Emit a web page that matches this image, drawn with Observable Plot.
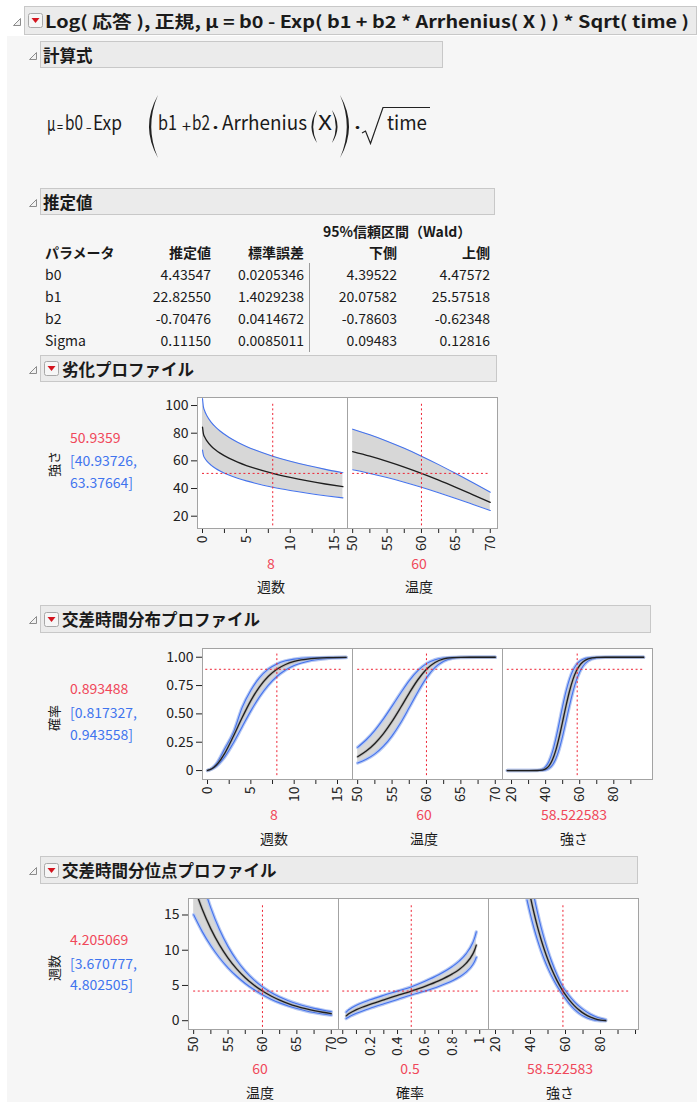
<!DOCTYPE html>
<html><head><meta charset="utf-8">
<script src="https://cdn.jsdelivr.net/npm/d3@7"></script>
<script src="https://cdn.jsdelivr.net/npm/@observablehq/plot@0.6"></script>
<style>
html,body{margin:0;padding:0;background:#fff;}
#root{position:relative;width:697px;height:1102px;overflow:hidden;font-family:"Noto Sans CJK JP","Noto Sans",sans-serif;color:#1a1a1a;}
.t{position:absolute;white-space:nowrap;line-height:1;}
.box{position:absolute;background:#ebebeb;border:1px solid #c8c8c8;box-sizing:border-box;}
</style></head>
<body><div id="root"></div>
<script>
// ---------- text content ----------
const titleText = "Log( 応答 ), 正規, μ = b0 - Exp( b1 + b2 * Arrhenius( X ) ) * Sqrt( time )";
const sectionTitles = ["計算式", "推定値", "劣化プロファイル", "交差時間分布プロファイル", "交差時間分位点プロファイル"];
const ciHeader = "95%信頼区間（Wald）";
const tableHeaders = ["パラメータ", "推定値", "標準誤差", "下側", "上側"];
const paramNames = ["b0", "b1", "b2", "Sigma"];
const estimates = ["4.43547", "22.82550", "-0.70476", "0.11150"];
const stdErrors = ["0.0205346", "1.4029238", "0.0414672", "0.0085011"];
const lowerCI = ["4.39522", "20.07582", "-0.78603", "0.09483"];
const upperCI = ["4.47572", "25.57518", "-0.62348", "0.12816"];

// current settings & readouts
const currentWeeks = 8, currentTemp = 60, currentProb = 0.5, currentStrength = 58.522583;
const degReadout = ["50.9359", "[40.93726,", "63.37664]"];
const degValue = 50.9359;
const distReadout = ["0.893488", "[0.817327,", "0.943558]"];
const distValue = 0.893488;
const quantReadout = ["4.205069", "[3.670777,", "4.802505]"];
const quantValue = 4.205069;

// factor ranges
const weeksRange = [0, 16], tempRange = [50, 70], probRange = [0, 1], strengthRange = [17.5, 97.5];

// tick labels
const weekTicks = [0, 2.5, 5, 7.5, 10, 12.5, 15], weekLabels = [0, 5, 10, 15];
const tempTicks = [50, 52.5, 55, 57.5, 60, 62.5, 65, 67.5, 70], tempLabels = [50, 55, 60, 65, 70];
const strengthTicks = [20, 30, 40, 50, 60, 70, 80, 90], strengthLabels = [20, 40, 60, 80];
const strengthTicks3 = [20, 30, 40, 50, 60, 70, 80, 90, 100];
const probTicks = [0, 0.1, 0.2, 0.3, 0.4, 0.5, 0.6, 0.7, 0.8, 0.9, 1], probLabels = [0, 0.2, 0.4, 0.6, 0.8, 1];
const degYTicks = [20, 40, 60, 80, 100];
const distYTicks = [0, 0.25, 0.5, 0.75, 1];
const quantYTicks = [0, 5, 10, 15];

// ---------- 劣化プロファイル ----------
const degWeeks      = [0, 0.1, 0.25, 0.5, 1, 1.5, 2, 3, 4, 5, 6, 8, 10, 12, 14, 16];
const degWeeksMean  = [84.39, 79.76, 77.19, 74.39, 70.60, 67.82, 65.57, 61.95, 59.06, 56.62, 54.51, 50.94, 48.00, 45.48, 43.28, 41.32];
const degWeeksLo    = [67.82, 64.10, 62.04, 59.79, 56.74, 54.51, 52.70, 49.79, 47.47, 45.51, 43.81, 40.94, 38.58, 36.55, 34.78, 33.21];
const degWeeksHi    = [105.0, 99.24, 96.04, 92.56, 87.84, 84.38, 81.58, 77.08, 73.48, 70.45, 67.82, 63.38, 59.72, 56.59, 53.85, 51.41];
const degTemp       = [50, 52.5, 55, 57.5, 60, 62.5, 65, 67.5, 70];
const degTempMean   = [66.64, 63.35, 59.62, 55.48, 50.94, 46.03, 40.83, 35.46, 30.04];
const degTempLo     = [53.56, 50.91, 47.92, 44.59, 40.94, 36.99, 32.82, 28.50, 24.14];
const degTempHi     = [82.91, 78.82, 74.18, 69.03, 63.38, 57.27, 50.80, 44.12, 37.38];

// ---------- 交差時間分布プロファイル ----------
const distWeeks     = [0, 0.5, 1, 2, 3, 4, 5, 6, 7, 8, 9, 10, 12, 14, 16];
const distWeeksMean = [0.0005, 0.0157, 0.0463, 0.1542, 0.3051, 0.4677, 0.6167, 0.7385, 0.8296, 0.8935, 0.9357, 0.9625, 0.9882, 0.9966, 0.9991];
const distWeeksLo   = [0.0005, 0.0131, 0.0371, 0.1222, 0.2457, 0.3871, 0.5266, 0.6505, 0.7520, 0.8300, 0.8871, 0.9271, 0.9717, 0.9899, 0.9966];
const distWeeksHi   = [0.0005, 0.0192, 0.0583, 0.1950, 0.3390, 0.5574, 0.7083, 0.8197, 0.8944, 0.9410, 0.9684, 0.9836, 0.9960, 0.9991, 0.9998];
const distTemp      = [50, 51.25, 52.5, 53.75, 55, 56.25, 57.5, 58.75, 60, 61.25, 62.5, 63.75, 65, 67.5, 70];
const distTempMean  = [0.1222, 0.1717, 0.2388, 0.3260, 0.4335, 0.5561, 0.6838, 0.8012, 0.8935, 0.9535, 0.9844, 0.9962, 0.9994, 1.0, 1.0];
const distTempLo    = [0.0663, 0.0989, 0.1466, 0.2145, 0.3059, 0.4212, 0.5561, 0.6935, 0.8173, 0.9099, 0.9652, 0.9901, 0.9981, 1.0, 1.0];
const distTempHi    = [0.2050, 0.2717, 0.3553, 0.4558, 0.5685, 0.6848, 0.7942, 0.8822, 0.9436, 0.9783, 0.9937, 0.9987, 0.9998, 1.0, 1.0];
const distStr       = [17.5, 25, 30, 35, 38, 40, 42, 44, 46, 48, 50, 52, 54, 56, 58, 60, 62, 65, 70, 75, 80, 90, 97.5];
const distStrMean   = [0, 0, 0, 0.0004, 0.0043, 0.0150, 0.0417, 0.0944, 0.1798, 0.2967, 0.4339, 0.5734, 0.6997, 0.8024, 0.8778, 0.9290, 0.9610, 0.9856, 0.9978, 0.9997, 1, 1, 1];
const distStrLo     = [0, 0, 0, 0.0001, 0.0015, 0.0061, 0.0192, 0.0491, 0.1046, 0.1911, 0.3063, 0.4384, 0.5728, 0.6950, 0.7951, 0.8704, 0.9225, 0.9676, 0.9940, 0.9991, 0.9999, 1, 1];
const distStrHi     = [0, 0, 0, 0.0012, 0.0110, 0.0337, 0.0821, 0.1650, 0.2823, 0.4231, 0.5689, 0.7002, 0.8061, 0.8830, 0.9337, 0.9647, 0.9822, 0.9942, 0.9993, 0.9999, 1, 1, 1];

// ---------- 交差時間分位点プロファイル ----------
const quantTemp     = [50, 51.25, 52.5, 53.75, 55, 56.25, 57.5, 58.75, 60, 61.25, 62.5, 63.75, 65, 66.25, 67.5, 68.75, 70];
const quantTempMean = [19.21, 15.81, 13.03, 10.75, 8.884, 7.354, 6.095, 5.058, 4.206, 3.501, 2.918, 2.434, 2.035, 1.703, 1.427, 1.197, 1.005];
const quantTempLo   = [15.03, 12.64, 10.63, 8.93, 7.507, 6.305, 5.283, 4.416, 3.671, 3.057, 2.529, 2.087, 1.720, 1.415, 1.164, 0.957, 0.786];
const quantTempHi   = [24.55, 19.78, 15.98, 12.94, 10.513, 8.578, 7.031, 5.793, 4.803, 4.010, 3.366, 2.839, 2.408, 2.050, 1.750, 1.498, 1.284];
const quantProb     = [0.025, 0.035, 0.05, 0.1, 0.15, 0.2, 0.3, 0.4, 0.5, 0.6, 0.7, 0.8, 0.85, 0.9, 0.95, 0.965, 0.975];
const quantProbMean = [0.683, 0.844, 1.047, 1.563, 1.969, 2.326, 2.969, 3.582, 4.206, 4.880, 5.656, 6.638, 7.280, 8.131, 9.477, 10.129, 10.726];
const quantProbLo   = [0.304, 0.428, 0.593, 1.045, 1.423, 1.764, 2.398, 3.017, 3.659, 4.216, 4.856, 5.663, 6.189, 6.884, 7.982, 8.514, 9.000];
const quantProbHi   = [1.214, 1.401, 1.629, 2.184, 2.604, 2.965, 3.602, 4.196, 4.791, 5.592, 6.518, 7.692, 8.461, 9.481, 11.100, 11.885, 12.605];
const quantStr      = [38, 40, 42, 44, 46, 48, 50, 52, 55, 58, 60, 62, 65, 68, 71, 74, 77, 80, 83];
const quantStrMean  = [19.98, 17.49, 15.28, 13.31, 11.56, 9.994, 8.601, 7.361, 5.755, 4.416, 3.654, 2.985, 2.139, 1.464, 0.937, 0.542, 0.264, 0.090, 0.009];
const quantStrLo    = [17.13, 15.01, 13.12, 11.44, 9.948, 8.611, 7.421, 6.361, 4.986, 3.839, 3.106, 2.446, 1.633, 1.010, 0.553, 0.243, 0.064, 0.001, 0];
const quantStrHi    = [23.06, 20.17, 17.61, 15.33, 13.29, 11.48, 9.868, 8.435, 6.578, 5.033, 4.246, 3.578, 2.715, 2.003, 1.422, 0.959, 0.600, 0.334, 0.150];

// ---------- helpers ----------
const root = document.getElementById("root");
const RED = "#f0485a", BLUETXT = "#3f74ee", LINEBLUE = "#4573ec";

function txt(s, x, y, o = {}) {
  const d = document.createElement("div");
  d.className = "t";
  d.textContent = s;
  d.style.left = x + "px";
  d.style.top = y + "px";
  d.style.fontSize = (o.size || 14) + "px";
  if (o.bold) d.style.fontWeight = "bold";
  if (o.color) d.style.color = o.color;
  const ax = o.anchor === "middle" ? "-50%" : o.anchor === "end" ? "-100%" : "0";
  d.style.transform = `translate(${ax},-50%)` + (o.rotate ? ` rotate(${o.rotate}deg)` : "");
  root.appendChild(d);
  return d;
}
// text fitted to a target width (left-anchored)
function txtFit(s, x, y, size, width, bold) {
  const d = txt(s, x, y, {size, bold});
  const w = d.getBoundingClientRect().width;
  d.style.transformOrigin = "0 50%";
  d.style.transform = `translate(0,-50%) scaleX(${width / w})`;
  return d;
}
function rect(x, y, w, h, css) {
  const d = document.createElement("div");
  d.style.position = "absolute";
  d.style.left = x + "px"; d.style.top = y + "px"; d.style.width = w + "px"; d.style.height = h + "px";
  Object.assign(d.style, css || {});
  root.appendChild(d);
  return d;
}
function icon(html, x, y, w, h) {
  const d = rect(x, y, w, h);
  d.innerHTML = `<svg width="${w}" height="${h}" viewBox="0 0 ${w} ${h}" style="display:block;overflow:visible">${html}</svg>`;
}
function tri(x, yc) { icon(`<polygon points="0.5,7.5 7.5,7.5 7.5,0.5" fill="#f2f2f2" stroke="#8c8c8c" stroke-width="1"/>`, x, yc - 4, 8, 8); }
function btn(x, yc) {
  icon(`<rect x="0.5" y="0.5" width="14" height="14" rx="2" fill="#f6f6f6" stroke="#a8a8a8"/><polygon points="3.5,5 11.5,5 7.5,10" fill="#d4141e"/>`, x, yc - 7.5, 15, 15);
}
function header(x1, y1, x2, y2, label, withBtn) {
  const b = document.createElement("div");
  b.className = "box";
  Object.assign(b.style, {left: x1 + "px", top: y1 + "px", width: (x2 - x1) + "px", height: (y2 - y1) + "px"});
  root.appendChild(b);
  const yc = (y1 + y2) / 2;
  tri(x1 - 11, yc + 1);
  if (withBtn) btn(x1 + 4, yc);
  if (label) txt(label, withBtn ? x1 + 22 : x1 + 3, yc, {size: 16.5, bold: true});
}

// background
rect(7, 36, 690, 1066, {background: "#f6f6f6"});

// main title
header(24, 6, 697, 35, "", true);
txtFit(titleText, 45, 20.5, 16.5, 644, true);

// 計算式
header(40, 41, 443, 68, sectionTitles[0], false);
// formula (typeset pieces)
{
  const fy = 122;
  const parts = [["μ", 46.5, 8.5, 20, fy + 1], ["=", 56.5, 6, 14, fy + 4], ["b0", 65, 18, 20, fy], ["–", 86, 5.5, 14, fy + 4],
    ["Exp", 93, 29, 20, fy], ["b1", 158, 19, 20, fy], ["+", 181.5, 9, 16, fy + 2.5], ["b2", 192, 18, 20, fy],
    ["•", 213, 5, 11, fy + 4], ["Arrhenius", 222, 85, 20, fy], ["X", 318, 14, 20, fy], ["•", 355, 5, 11, fy + 4], ["time", 387, 40, 20, fy]];
  for (const [s, x, w, sz, y] of parts) txtFit(s, x, y, sz, w);
  const P = "#222";
  icon(`<path d="M158,95 Q140,126.5 158,158 Q144.5,126.5 158,95 Z" fill="${P}"/>
        <path d="M340,95 Q358,126.5 340,158 Q353.5,126.5 340,95 Z" fill="${P}"/>
        <path d="M317,110 Q306,126.5 317,143 Q309.5,126.5 317,110 Z" fill="${P}"/>
        <path d="M332,110 Q343,126.5 332,143 Q339.5,126.5 332,110 Z" fill="${P}"/>
        <polyline points="362,133 365.5,131 370.5,143.5 383,107.5 430,107.5" fill="none" stroke="${P}" stroke-width="1.2"/>`, 0, 0, 1, 1);
}

// 推定値
header(40, 188, 495, 215, sectionTitles[1], false);
txt(ciHeader, 323, 231, {size: 14, bold: true});
{
  const colR = [211, 304, 397, 490];
  txt(tableHeaders[0], 45, 252, {size: 14, bold: true});
  for (let j = 1; j < 5; j++) txt(tableHeaders[j], colR[j - 1], 252, {size: 14, bold: true, anchor: "end"});
  const rowsY = [274, 296, 318, 340];
  const cols = [estimates, stdErrors, lowerCI, upperCI];
  paramNames.forEach((p, i) => {
    txt(p, 45, rowsY[i], {size: 14});
    cols.forEach((c, j) => txt(c[i], colR[j], rowsY[i], {size: 14, anchor: "end"}));
  });
  rect(309, 263, 1, 89, {background: "#9a9a9a"});
}

// ---------- panels ----------
function rows(xs, m, lo, hi) { return xs.map((x, i) => ({x, m: m[i], lo: lo[i], hi: hi[i]})); }
const fmtNum = d => String(d);
const fmtProb = d => d === 0 ? "0" : d.toFixed(2);

function panel(o) {
  const ml = o.yTicks ? 60 : 2, mr = 2, mt = 2, mb = 45;
  const C = "monotone-x";
  const marks = [Plot.frame({fill: "white", stroke: null})];
  marks.push(Plot.areaY(o.data, {x: "x", y1: "lo", y2: "hi", fill: "#d7d7d7", curve: C, clip: true}));
  if (o.halo) {
    marks.push(Plot.lineY(o.data, {x: "x", y: "lo", stroke: "#b6c8f3", strokeWidth: 3.4, curve: C, clip: true}));
    marks.push(Plot.lineY(o.data, {x: "x", y: "hi", stroke: "#b6c8f3", strokeWidth: 3.4, curve: C, clip: true}));
  }
  marks.push(Plot.lineY(o.data, {x: "x", y: "lo", stroke: LINEBLUE, strokeWidth: 1.1, curve: C, clip: true}));
  marks.push(Plot.lineY(o.data, {x: "x", y: "hi", stroke: LINEBLUE, strokeWidth: 1.1, curve: C, clip: true}));
  if (o.halo) marks.push(Plot.lineY(o.data, {x: "x", y: "m", stroke: "#8d8d8d", strokeOpacity: 0.4, strokeWidth: 3, curve: C, clip: true}));
  marks.push(Plot.lineY(o.data, {x: "x", y: "m", stroke: "#1e1e1e", strokeWidth: 1.3, curve: C, clip: true}));
  marks.push(Plot.ruleX([{x: o.cx, y1: o.vy[0], y2: o.vy[1]}], {x: "x", y1: "y1", y2: "y2", stroke: "#ee2233", strokeWidth: 1, strokeDasharray: "2,2.6"}));
  marks.push(Plot.ruleY([{y: o.cy, x1: o.hx[0], x2: o.hx[1]}], {y: "y", x1: "x1", x2: "x2", stroke: "#ee2233", strokeWidth: 1, strokeDasharray: "2,2.6"}));
  marks.push(Plot.axisX({ticks: o.xTicks, tickSize: 5, tickPadding: 2, tickRotate: -90, label: null, fontSize: 14,
    tickFormat: d => o.xLabels.includes(d) ? fmtNum(d) : "", color: "#222"}));
  if (o.yTicks) marks.push(Plot.axisY({ticks: o.yTicks, tickSize: 6, tickPadding: 3, label: null, fontSize: 14, tickFormat: o.yFmt || fmtNum, color: "#222"}));
  marks.push(Plot.frame({stroke: "#a3a3a3"}));
  const svg = Plot.plot({
    width: o.w + ml + mr, height: o.h + mt + mb,
    marginLeft: ml, marginRight: mr, marginTop: mt, marginBottom: mb,
    x: {domain: o.xDomain, label: null},
    y: {domain: o.yDomain, label: null, axis: o.yTicks ? undefined : null},
    style: {fontFamily: '"Noto Sans CJK JP","Noto Sans",sans-serif', fontSize: "14px", background: "transparent", overflow: "visible", color: "#222", maxWidth: "none"},
    marks
  });
  svg.style.position = "absolute";
  svg.style.left = (o.x0 - ml) + "px";
  svg.style.top = (o.y0 - mt) + "px";
  root.appendChild(svg);
}

function readout(lines, ylabel, ys) {
  txt(ylabel, 53, ys[3], {size: 13, anchor: "middle", rotate: -90});
  txt(lines[0], 70, ys[0], {size: 14, color: RED});
  txt(lines[1], 70, ys[1], {size: 14, color: BLUETXT});
  txt(lines[2], 70, ys[2], {size: 14, color: BLUETXT});
}
function under(val, label, xc, y1, y2) {
  txt(val, xc, y1, {size: 14, color: RED, anchor: "middle"});
  txt(label, xc, y2, {size: 14, anchor: "middle"});
}

// 劣化プロファイル
header(40, 355, 497, 382, sectionTitles[2], true);
readout(degReadout, "強さ", [437, 460, 482, 464]);
panel({x0: 197, y0: 397, w: 150, h: 131, xDomain: [-0.57, 16.52], yDomain: [11.1, 105.8],
  data: rows(degWeeks, degWeeksMean, degWeeksLo, degWeeksHi), xTicks: weekTicks, xLabels: weekLabels,
  yTicks: degYTicks, cx: currentWeeks, cy: degValue, hx: weeksRange, vy: [13, 102.5], halo: false});
panel({x0: 347, y0: 397, w: 150, h: 131, xDomain: [49.25, 71.05], yDomain: [11.1, 105.8],
  data: rows(degTemp, degTempMean, degTempLo, degTempHi), xTicks: tempTicks, xLabels: tempLabels,
  cx: currentTemp, cy: degValue, hx: tempRange, vy: [13, 102.5], halo: false});
under(String(currentWeeks), "週数", 271, 563, 586);
under(String(currentTemp), "温度", 419, 563, 586);

// 交差時間分布プロファイル
header(40, 605, 651, 633, sectionTitles[3], true);
readout(distReadout, "確率", [688, 712, 734, 718]);
panel({x0: 202, y0: 648, w: 150, h: 131, xDomain: [-0.58, 16.73], yDomain: [-0.079, 1.077],
  data: rows(distWeeks, distWeeksMean, distWeeksLo, distWeeksHi), xTicks: weekTicks, xLabels: weekLabels,
  yTicks: distYTicks, yFmt: fmtProb, cx: currentWeeks, cy: distValue, hx: [-0.2, 15.7], vy: [-0.045, 1.045], halo: true});
panel({x0: 352, y0: 648, w: 150, h: 131, xDomain: [49.25, 71.05], yDomain: [-0.079, 1.077],
  data: rows(distTemp, distTempMean, distTempLo, distTempHi), xTicks: tempTicks, xLabels: tempLabels,
  cx: currentTemp, cy: distValue, hx: tempRange, vy: [-0.045, 1.045], halo: true});
panel({x0: 502, y0: 648, w: 150, h: 131, xDomain: [14.7, 102.7], yDomain: [-0.079, 1.077],
  data: rows(distStr, distStrMean, distStrLo, distStrHi), xTicks: strengthTicks, xLabels: strengthLabels,
  cx: currentStrength, cy: distValue, hx: strengthRange, vy: [-0.045, 1.045], halo: true});
under(String(currentWeeks), "週数", 274, 814, 838);
under(String(currentTemp), "温度", 424, 814, 838);
under(String(currentStrength), "強さ", 574, 814, 838);

// 交差時間分位点プロファイル
header(40, 856, 638, 884, sectionTitles[4], true);
readout(quantReadout, "週数", [939, 963, 984, 968]);
panel({x0: 188, y0: 898, w: 150, h: 131, xDomain: [49.25, 71.05], yDomain: [-1.25, 17.34],
  data: rows(quantTemp, quantTempMean, quantTempLo, quantTempHi), xTicks: tempTicks, xLabels: tempLabels,
  yTicks: quantYTicks, cx: currentTemp, cy: quantValue, hx: tempRange, vy: [-0.95, 16.6], halo: true});
panel({x0: 338, y0: 898, w: 150, h: 131, xDomain: [-0.031, 1.064], yDomain: [-1.25, 17.34],
  data: rows(quantProb, quantProbMean, quantProbLo, quantProbHi), xTicks: probTicks, xLabels: probLabels,
  cx: currentProb, cy: quantValue, hx: probRange, vy: [-0.95, 16.6], halo: true});
panel({x0: 488, y0: 898, w: 150, h: 131, xDomain: [16, 101.7], yDomain: [-1.25, 17.34],
  data: rows(quantStr, quantStrMean, quantStrLo, quantStrHi), xTicks: strengthTicks3, xLabels: strengthLabels,
  cx: currentStrength, cy: quantValue, hx: [18.7, 96.5], vy: [-0.95, 16.6], halo: true});
under(String(currentTemp), "温度", 260, 1068, 1092);
under(String(currentProb), "確率", 410, 1068, 1092);
under(String(currentStrength), "強さ", 560, 1068, 1092);
</script></body></html>
